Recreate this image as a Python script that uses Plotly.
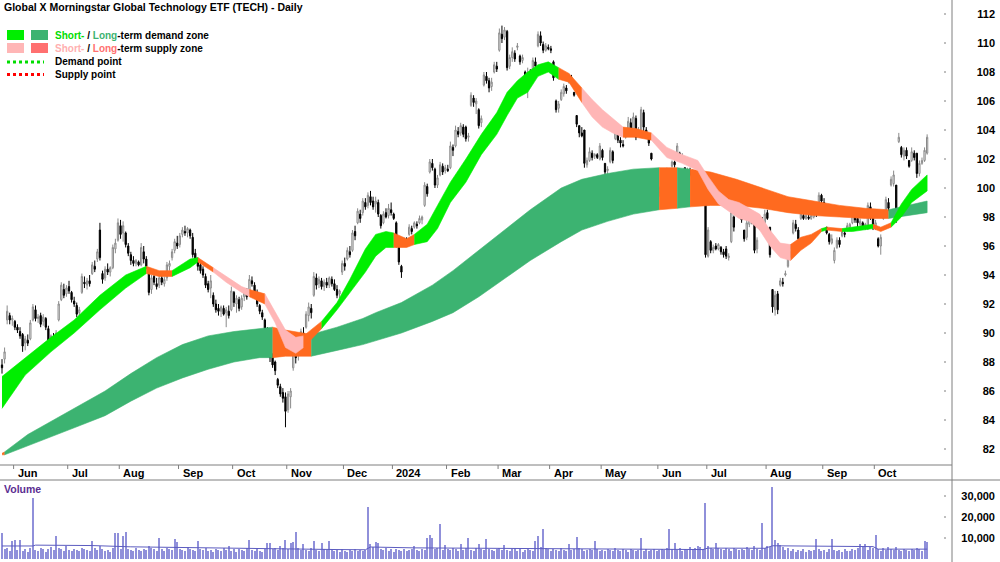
import plotly.graph_objects as go

# ---------------- data ----------------
opens = [
87.8, 88.2, 90.9, 91.2, 90.9, 90.8, 90.4, 90.1, 89.9, 89.3,
89.5, 89.6, 90.9, 91.6, 91.0, 91.2, 90.8, 91.0, 90.3, 89.5,
89.7, 89.4, 90.9, 92.3, 93.0, 92.7, 93.2, 92.8, 92.2, 91.9,
91.4, 92.8, 93.5, 93.3, 93.6, 94.1, 94.6, 95.1, 97.1, 94.1,
93.8, 94.4, 94.2, 94.5, 95.8, 96.4, 97.4, 96.9, 96.9, 96.0,
95.4, 95.0, 94.8, 94.9, 94.7, 95.6, 95.1, 94.3, 93.0, 93.9,
93.4, 93.3, 93.8, 93.4, 93.8, 94.6, 95.2, 95.7, 96.2, 96.1,
96.8, 97.0, 96.9, 97.1, 96.6, 95.5, 95.0, 94.7, 94.4, 93.9,
93.4, 93.1, 92.6, 92.0, 91.7, 91.5, 91.7, 91.4, 91.5, 91.6,
92.8, 92.0, 92.3, 91.8, 92.5, 92.7, 92.8, 93.6, 93.3, 92.8,
91.9, 91.4, 90.9, 90.2, 89.3, 88.4, 88.0, 86.8, 86.3, 85.9,
85.6, 84.7, 85.6, 87.6, 88.4, 88.5, 89.0, 90.0, 90.4, 91.2,
91.7, 92.6, 93.8, 93.4, 93.6, 93.2, 93.5, 93.3, 93.7, 93.4,
93.0, 92.7, 94.2, 94.8, 95.1, 95.6, 95.7, 97.0, 97.6, 98.2,
98.3, 99.0, 98.8, 99.4, 99.1, 98.9, 99.0, 98.1, 97.6, 98.3,
98.1, 98.5, 98.2, 97.6, 95.9, 94.6, 96.2, 96.3, 96.8, 97.2,
97.3, 97.5, 97.6, 97.8, 98.8, 100.1, 101.1, 101.7, 101.3, 100.2,
100.9, 101.5, 101.2, 101.3, 101.4, 102.8, 102.9, 103.9, 103.8, 104.2,
104.2, 103.5, 105.7, 106.2, 105.8, 105.4, 104.5, 107.1, 107.7, 107.4,
107.0, 108.0, 108.4, 109.5, 110.6, 110.4, 110.8, 108.4, 109.0, 109.3,
109.7, 109.1, 108.8, 108.0, 107.6, 107.9, 108.0, 108.7, 109.8, 110.5,
109.9, 109.5, 109.7, 109.6, 108.7, 106.0, 105.5, 106.1, 106.5, 106.9,
107.3, 107.6, 106.6, 105.0, 104.3, 103.8, 104.0, 101.6, 101.9, 102.4,
102.2, 102.3, 102.0, 102.6, 101.7, 101.2, 101.8, 102.5, 103.4, 103.7,
103.3, 103.0, 103.5, 103.9, 104.5, 104.0, 104.8, 103.8, 103.6, 105.2,
104.0, 103.4, 102.4, 101.1, 100.6, 99.7, 99.9, 99.6, 100.8, 101.2,
101.5, 101.8, 102.1, 102.4, 102.0, 101.4, 101.1, 101.2, 101.0, 101.1,
100.9, 101.0, 100.7, 100.6, 95.3, 96.3, 95.7, 96.0, 95.8, 95.9,
95.6, 95.8, 95.2, 96.3, 98.0, 98.8, 99.3, 98.4, 97.1, 96.6,
97.5, 98.2, 97.6, 95.8, 97.2, 97.7, 97.6, 98.3, 97.3, 93.0,
91.6, 92.7, 93.3, 93.5, 94.0, 94.6, 95.6, 96.9, 97.5, 97.1,
97.9, 98.1, 97.9, 98.0, 97.9, 98.0, 98.4, 98.3, 99.5, 99.0,
97.3, 96.8, 96.2, 95.0, 95.9, 96.4, 96.7, 96.9, 97.1, 97.3,
97.6, 98.0, 97.9, 97.5, 97.6, 97.4, 97.2, 98.7, 98.5, 97.4,
96.5, 96.0, 97.9, 98.3, 99.0, 100.2, 100.3, 100.2, 103.2, 102.8,
102.2, 102.6, 101.9, 101.9, 102.4, 102.4, 101.0, 101.7, 101.9, 102.4,
]
highs = [
88.2, 89.0, 91.9, 91.4, 91.2, 90.9, 90.6, 90.4, 90.0, 89.8,
89.9, 90.9, 92.0, 91.9, 91.3, 91.4, 91.3, 91.1, 90.5, 89.9,
90.0, 90.2, 92.2, 93.5, 93.4, 93.3, 93.6, 92.9, 92.5, 92.1,
91.8, 94.1, 93.9, 93.8, 94.0, 94.9, 95.0, 95.8, 97.6, 94.3,
94.6, 94.8, 94.6, 96.1, 96.5, 97.9, 97.8, 97.7, 97.0, 96.2,
95.6, 95.3, 95.1, 95.0, 96.2, 96.0, 95.3, 94.5, 94.0, 94.2,
93.8, 94.0, 94.0, 93.9, 94.9, 95.0, 95.8, 96.5, 96.7, 96.9,
97.3, 97.4, 97.3, 97.2, 96.9, 95.8, 95.2, 95.0, 94.6, 94.1,
93.6, 94.0, 92.8, 92.3, 92.0, 91.9, 91.9, 91.8, 91.9, 93.2,
92.9, 92.6, 92.5, 92.6, 93.0, 93.1, 94.0, 93.9, 93.5, 93.0,
92.0, 91.6, 91.0, 90.4, 89.4, 88.6, 88.1, 86.9, 86.5, 86.2,
85.9, 86.0, 86.2, 88.9, 89.2, 89.3, 90.3, 90.4, 91.5, 92.1,
92.0, 94.2, 94.1, 93.9, 93.8, 93.7, 93.8, 93.9, 93.9, 93.7,
93.3, 93.0, 95.0, 95.2, 95.9, 96.0, 97.1, 97.4, 98.6, 98.5,
99.3, 99.3, 99.7, 99.8, 99.4, 99.4, 99.2, 98.2, 98.4, 98.6,
98.9, 99.0, 98.3, 97.7, 96.1, 94.7, 96.6, 96.6, 97.5, 97.4,
97.7, 97.7, 98.1, 98.1, 100.4, 100.3, 102.0, 102.0, 101.4, 100.9,
101.8, 101.7, 101.6, 101.6, 103.2, 103.0, 104.3, 104.2, 104.5, 104.4,
104.3, 103.8, 106.6, 106.4, 106.2, 105.5, 105.0, 108.0, 108.0, 107.6,
107.6, 108.7, 108.7, 111.0, 111.2, 111.1, 110.9, 109.2, 109.7, 109.5,
110.0, 109.2, 109.2, 108.1, 108.3, 108.2, 109.0, 109.0, 110.8, 110.8,
110.1, 110.0, 109.9, 109.8, 108.8, 106.1, 106.0, 106.8, 107.2, 107.1,
107.9, 107.8, 106.6, 105.0, 104.3, 104.2, 104.0, 102.1, 102.8, 102.6,
102.4, 102.4, 103.1, 102.7, 101.7, 101.5, 102.8, 102.6, 104.0, 103.8,
103.5, 103.3, 104.0, 104.9, 104.8, 105.2, 105.0, 104.2, 105.6, 105.4,
104.2, 103.5, 102.4, 101.1, 100.6, 100.1, 99.9, 99.9, 101.4, 101.3,
101.9, 101.9, 103.1, 102.5, 102.4, 101.4, 101.4, 101.4, 101.3, 101.2,
101.2, 101.0, 100.9, 100.6, 97.3, 96.4, 96.1, 96.2, 96.2, 96.0,
95.8, 96.0, 95.5, 98.5, 98.1, 99.7, 99.4, 98.5, 97.1, 97.8,
98.5, 98.4, 97.7, 96.6, 98.0, 98.0, 98.5, 98.5, 97.3, 93.0,
92.9, 92.9, 93.8, 93.8, 94.3, 95.9, 96.1, 97.8, 97.8, 97.3,
98.3, 98.3, 98.2, 98.3, 98.2, 98.7, 98.7, 99.7, 99.6, 99.3,
97.3, 96.9, 96.8, 95.9, 96.6, 96.6, 97.1, 97.1, 97.6, 97.6,
98.3, 98.2, 98.0, 97.9, 97.7, 97.6, 99.0, 99.0, 98.5, 97.8,
96.6, 96.8, 98.5, 99.4, 99.3, 100.8, 101.2, 100.2, 103.8, 102.9,
102.8, 102.8, 101.9, 102.8, 102.6, 102.4, 101.9, 102.1, 102.8, 103.7,
]
lows = [
87.2, 87.9, 90.6, 90.6, 90.5, 90.2, 90.0, 89.6, 88.7, 88.8,
89.1, 89.5, 90.8, 90.8, 90.7, 90.4, 90.5, 90.2, 89.3, 89.0,
88.9, 89.1, 90.8, 92.2, 92.4, 92.5, 92.7, 92.1, 91.8, 91.1,
91.0, 92.7, 93.1, 93.0, 93.2, 94.0, 94.2, 94.9, 95.0, 93.4,
93.6, 94.0, 93.9, 94.4, 95.5, 96.3, 96.5, 96.3, 95.9, 95.3,
94.7, 94.6, 94.6, 94.6, 94.6, 94.8, 94.4, 92.6, 92.7, 93.3,
93.0, 93.1, 93.3, 93.2, 93.6, 94.3, 95.0, 95.5, 95.8, 95.9,
96.6, 96.7, 96.6, 96.5, 95.2, 94.9, 94.3, 94.1, 93.8, 93.1,
92.8, 92.4, 91.8, 91.4, 91.2, 91.1, 91.2, 90.4, 91.0, 91.5,
91.8, 91.4, 91.5, 91.6, 92.2, 92.3, 92.7, 93.2, 92.5, 91.8,
91.3, 90.9, 89.8, 89.4, 88.0, 87.6, 87.1, 86.2, 85.6, 85.2,
83.5, 84.5, 84.8, 87.4, 87.9, 88.1, 88.9, 89.4, 90.3, 90.8,
91.0, 92.5, 93.0, 93.1, 93.0, 92.9, 93.1, 93.1, 93.2, 92.9,
92.4, 92.4, 94.0, 94.3, 95.0, 95.2, 95.6, 96.4, 97.5, 97.6,
98.1, 98.5, 98.6, 98.8, 98.5, 98.3, 98.0, 97.2, 97.5, 97.9,
97.9, 98.1, 97.8, 95.9, 94.7, 93.8, 96.0, 96.1, 96.7, 96.8,
97.2, 97.2, 97.5, 97.5, 98.7, 99.4, 101.0, 101.2, 100.0, 100.0,
100.8, 100.9, 101.0, 101.1, 101.3, 102.2, 102.8, 103.5, 103.6, 103.5,
103.2, 103.2, 105.6, 105.6, 105.1, 104.1, 104.2, 107.0, 107.2, 106.6,
106.7, 107.9, 108.0, 109.4, 110.0, 110.2, 108.1, 108.2, 108.7, 108.7,
109.5, 108.5, 108.6, 107.3, 106.2, 107.4, 107.8, 108.1, 109.7, 109.8,
109.3, 109.4, 109.5, 109.3, 107.4, 105.2, 105.2, 106.0, 106.3, 106.5,
107.2, 107.2, 106.3, 104.2, 103.5, 103.5, 101.4, 101.4, 101.8, 101.9,
102.0, 102.0, 101.9, 101.9, 100.9, 100.9, 101.7, 101.7, 103.3, 103.1,
102.8, 102.8, 103.4, 103.8, 103.8, 103.9, 103.3, 103.7, 103.5, 103.9,
103.4, 102.9, 101.9, 100.7, 99.6, 99.4, 99.5, 99.5, 100.7, 100.8,
101.4, 101.4, 102.0, 101.8, 101.8, 100.9, 100.9, 100.8, 100.8, 100.8,
100.7, 100.5, 100.5, 95.2, 95.2, 95.5, 95.5, 95.7, 95.7, 95.4,
95.2, 95.1, 95.0, 96.2, 97.0, 98.7, 98.6, 97.6, 96.3, 96.4,
97.3, 97.5, 95.5, 95.5, 97.1, 97.1, 97.5, 97.8, 95.2, 91.4,
91.2, 91.3, 93.2, 93.2, 93.9, 94.5, 95.2, 96.8, 97.0, 96.3,
97.8, 97.8, 97.8, 97.8, 97.8, 97.9, 98.0, 98.2, 98.9, 98.7,
96.8, 96.1, 96.1, 94.8, 95.8, 95.9, 96.6, 96.6, 97.0, 97.1,
97.5, 97.6, 97.3, 97.3, 97.2, 97.1, 97.1, 97.8, 97.1, 97.1,
95.9, 95.4, 97.8, 98.2, 98.4, 100.1, 100.1, 97.6, 103.1, 102.1,
101.9, 102.0, 101.4, 101.8, 101.9, 100.7, 100.8, 101.6, 101.8, 102.3,
]
closes = [
87.6, 88.7, 91.5, 90.9, 91.0, 90.4, 90.2, 89.8, 89.1, 89.6,
89.3, 90.7, 91.8, 91.0, 91.1, 90.6, 91.1, 90.4, 89.5, 89.8,
89.2, 90.0, 92.0, 93.3, 92.6, 93.1, 92.9, 92.3, 92.0, 91.3,
91.6, 93.9, 93.4, 93.6, 93.4, 94.7, 94.4, 95.6, 95.2, 93.7,
94.4, 94.2, 94.5, 95.9, 96.2, 97.6, 96.8, 97.4, 96.1, 95.5,
95.0, 94.8, 95.0, 94.7, 95.9, 95.1, 94.6, 92.8, 93.8, 93.5,
93.2, 93.8, 93.5, 93.7, 94.7, 94.8, 95.6, 96.3, 96.0, 96.7,
97.1, 96.9, 97.2, 96.7, 95.4, 95.1, 94.6, 94.3, 94.0, 93.3,
93.0, 93.6, 92.0, 91.6, 91.5, 91.8, 91.3, 91.6, 91.2, 92.9,
92.1, 92.4, 91.7, 92.4, 92.8, 92.5, 93.7, 93.4, 92.7, 92.0,
91.5, 91.1, 90.0, 89.6, 88.3, 87.8, 87.4, 86.4, 85.8, 85.5,
84.6, 85.8, 86.0, 88.7, 88.3, 89.0, 90.1, 89.7, 91.3, 91.8,
91.4, 93.9, 93.3, 93.7, 93.2, 93.5, 93.3, 93.8, 93.4, 93.0,
92.6, 92.9, 94.8, 94.6, 95.7, 95.4, 96.9, 96.7, 98.4, 97.9,
99.1, 98.7, 99.5, 99.0, 98.7, 99.1, 98.2, 97.4, 98.2, 98.0,
98.6, 98.3, 97.9, 96.1, 94.9, 94.2, 96.4, 96.2, 97.3, 97.0,
97.6, 97.4, 97.9, 98.0, 100.2, 99.6, 101.8, 101.4, 100.2, 100.7,
101.6, 101.1, 101.4, 101.2, 102.9, 102.6, 104.0, 103.7, 104.3, 103.7,
103.4, 103.6, 106.4, 105.9, 106.0, 104.3, 104.8, 107.8, 107.4, 106.9,
107.3, 108.5, 108.2, 110.7, 110.3, 110.9, 108.3, 109.0, 109.4, 108.9,
109.8, 108.7, 109.0, 107.5, 108.0, 107.7, 108.8, 108.4, 110.6, 110.0,
109.5, 109.8, 109.6, 109.5, 107.6, 105.4, 105.8, 106.6, 107.0, 106.7,
107.7, 107.3, 106.4, 104.4, 103.8, 103.6, 101.7, 101.9, 102.5, 102.1,
102.3, 102.1, 102.9, 102.1, 101.1, 101.3, 102.6, 101.9, 103.8, 103.3,
103.1, 102.9, 103.8, 104.6, 104.0, 104.9, 103.5, 104.0, 105.4, 104.2,
103.5, 103.1, 102.0, 100.9, 99.8, 100.0, 99.6, 99.8, 101.2, 101.0,
101.8, 101.6, 102.9, 102.0, 102.2, 101.0, 101.3, 100.9, 101.2, 100.9,
101.0, 100.6, 100.6, 95.4, 97.1, 95.7, 95.9, 95.8, 96.1, 95.6,
95.4, 95.3, 95.3, 98.3, 97.3, 99.5, 98.8, 97.8, 96.5, 97.6,
98.3, 97.8, 95.7, 96.4, 97.8, 97.3, 98.2, 97.9, 95.4, 91.8,
92.6, 91.6, 93.6, 93.4, 94.1, 95.7, 95.9, 97.6, 97.2, 96.5,
98.2, 97.9, 98.1, 97.9, 98.1, 98.5, 98.2, 99.5, 99.1, 98.9,
96.9, 96.3, 96.5, 95.7, 96.4, 96.1, 97.0, 96.8, 97.4, 97.5,
98.1, 97.8, 97.6, 97.7, 97.3, 97.5, 98.8, 98.0, 97.3, 97.6,
96.0, 96.6, 98.3, 99.2, 98.6, 100.6, 100.9, 97.8, 103.5, 102.3,
102.6, 102.2, 101.5, 102.5, 102.1, 101.0, 101.7, 101.9, 102.6, 103.5,
]
volumes = [
12200, 4800, 5300, 3900, 8600, 9000, 4200, 9000, 3600, 4700, 3300, 5100, 29200, 4400, 3800, 5200, 4600, 3500, 4900, 5600,
4100, 11000, 5300, 4700, 3900, 6100, 4500, 3700, 5000, 4300, 3600, 5400, 4800, 4100, 3900, 8600, 5200, 4400, 6200, 4600,
3800, 4500, 3500, 5100, 12500, 12200, 4700, 11000, 13000, 4900, 4200, 3600, 5300, 4400, 3700, 5000, 4500, 6300, 5100, 4800,
3900, 10200, 4600, 3800, 5200, 4700, 4100, 9400, 8000, 5000, 4300, 3900, 5500, 4700, 4100, 3600, 8600, 4900, 4200, 5300,
3800, 4500, 3400, 4900, 4100, 3600, 5200, 4400, 6300, 3900, 4600, 3500, 4800, 4200, 3700, 5100, 9000, 4300, 3600, 4700,
4000, 3500, 5000, 7800, 7800, 4600, 5400, 4100, 6200, 5300, 9000, 4800, 7800, 8000, 12700, 5200, 4500, 7000, 4300, 3900,
5100, 8600, 4400, 3800, 7800, 4600, 4100, 8600, 4900, 3700, 4300, 3500, 4800, 3900, 3400, 4400, 3800, 4600, 3600, 4200,
3700, 4500, 24900, 7000, 5600, 8000, 7500, 4700, 4100, 5200, 3800, 4600, 3500, 4900, 4300, 3900, 4700, 3600, 4400, 5000,
6300, 4200, 3800, 4900, 4500, 9800, 11400, 9800, 4700, 5300, 16500, 4400, 6600, 4800, 4100, 5200, 4600, 3900, 7000, 4500,
5100, 9800, 4400, 3800, 5300, 7000, 4600, 4200, 9400, 5000, 4300, 3700, 4900, 5400, 4100, 6700, 4500, 3600, 4800, 5200,
4000, 4600, 3500, 4400, 5000, 4200, 3800, 8600, 11000, 5500, 14300, 5200, 4600, 3900, 4800, 4300, 3700, 5100, 4500, 3600,
7000, 4200, 4900, 10300, 5300, 4600, 3800, 4400, 5000, 4100, 8600, 4700, 3900, 4500, 3600, 4800, 4200, 3700, 5100, 4400,
3800, 4600, 4100, 3500, 4900, 4300, 3700, 4500, 9800, 4000, 4700, 3600, 4400, 5000, 3900, 4300, 4800, 4100, 5200, 14300,
4600, 7500, 4200, 5100, 3800, 4700, 4400, 5600, 4900, 5300, 6200, 5700, 5000, 26500, 6000, 5400, 4800, 7800, 5100, 4600,
4300, 5200, 4700, 3900, 5400, 4800, 4200, 5000, 4400, 5700, 4600, 4100, 6300, 5000, 4500, 17000, 5200, 6100, 5600, 34100,
9000, 7600, 6800, 5900, 4300, 5100, 3800, 4600, 3500, 4200, 3900, 4800, 3300, 4100, 3600, 4400, 9400, 4900, 3700, 4300,
3500, 4600, 9400, 4200, 3800, 4500, 3400, 4900, 4000, 3600, 4700, 4100, 5200, 7000, 5600, 7000, 4400, 5800, 5100, 11400,
4600, 3900, 5200, 4300, 5700, 4800, 4100, 5500, 4500, 3800, 5000, 4300, 3700, 4900, 4200, 5400, 4600, 3900, 8600, 8000,
]
vol_ma_idx = [0, 12, 13, 35, 50, 70, 90, 110, 130, 141, 143, 160, 180, 200, 220, 240, 260, 272, 274, 296, 299, 320, 338, 340, 359]
vol_ma_val = [6200, 6200, 6600, 6400, 5800, 5400, 5000, 4900, 4500, 4400, 5700, 5300, 5100, 5000, 5000, 4700, 4600, 4500, 5200, 5100, 6300, 6200, 5900, 4700, 4700]

# short-term zone (upper / lower edge) sampled at trading-day index
short_idx = [0, 9, 19, 28, 38, 48, 56, 61, 66, 73, 76, 82, 87, 93, 96, 102, 106, 110, 114, 117,
             124, 130, 135, 141, 145, 149, 152, 157, 160, 165, 169, 174, 180, 186, 192, 196, 200, 204, 208, 212,
             216, 220, 225, 229, 233, 237, 241, 246, 252, 258, 264, 270, 274, 278, 282, 286, 290, 294, 298, 302,
             306, 310, 314, 318, 320, 326, 330, 334, 338, 341, 345, 349, 353, 356, 359]
short_up = [87.0, 88.3, 89.7, 90.9, 92.6, 94.0, 94.6, 94.3, 94.3, 95.1, 95.2, 94.5, 93.9, 93.2, 93.0, 92.7, 91.4, 90.2, 89.7, 89.8,
            90.8, 92.1, 93.7, 95.8, 96.8, 97.0, 96.9, 96.5, 96.8, 97.5, 98.8, 100.4, 102.0, 103.7, 105.2, 106.6, 107.4, 108.0, 108.5, 108.7,
            108.3, 107.9, 106.9, 106.1, 105.4, 104.8, 104.2, 104.1, 103.8, 102.8, 102.3, 101.9, 100.8, 99.8, 99.2, 99.0, 98.6, 98.2, 97.1, 96.2,
            96.1, 96.6, 96.8, 97.2, 97.3, 97.2, 97.3, 97.4, 97.5, 97.3, 97.6, 98.9, 99.9, 100.4, 100.9]
short_lo = [84.8, 87.1, 88.7, 90.0, 91.6, 93.1, 94.1, 93.9, 93.9, 94.5, 94.9, 94.2, 93.5, 92.8, 92.5, 92.0, 90.7, 89.0, 88.6, 89.0,
            90.3, 91.6, 92.8, 94.2, 95.3, 95.9, 95.9, 95.9, 96.1, 96.3, 97.2, 99.0, 100.4, 102.3, 103.7, 105.0, 106.2, 106.6, 107.7, 108.0,
            107.5, 107.3, 105.9, 104.9, 104.2, 103.8, 103.5, 103.5, 103.3, 102.1, 101.7, 101.2, 99.9, 98.9, 98.4, 97.9, 97.7, 97.1, 96.0, 95.2,
            95.0, 95.7, 96.2, 97.0, 97.1, 97.0, 97.0, 97.1, 97.2, 97.0, 97.3, 98.0, 99.0, 99.4, 99.8]
short_breaks = [0, 56, 66, 76, 82, 96, 102, 117, 124, 152, 160, 216, 225, 241, 252, 306, 318, 320, 326, 338, 345, 359]
short_kind = ["demand", "mixed", "demand", "mixed", "supply", "mixed", "supply", "mixed", "demand", "mixed", "demand",
              "mixed", "supply", "mixed", "supply", "mixed", "demand", "mixed", "demand", "mixed", "demand"]

# long-term zone
long_idx = [0, 1, 10, 20, 30, 40, 50, 60, 70, 80, 90, 100, 105, 110, 120, 130, 140, 145, 155, 167,
            175, 185, 194, 205, 217, 225, 235, 245, 255, 262, 267, 275, 285, 295, 305, 315, 325, 335, 344, 352, 359]
long_up = [81.7, 81.8, 83.0, 84.0, 85.0, 86.0, 87.2, 88.3, 89.2, 89.8, 90.1, 90.3, 90.4, 90.2, 89.9, 90.4, 91.0, 91.4, 92.1, 93.3,
           94.3, 95.7, 96.9, 98.5, 100.0, 100.6, 101.0, 101.3, 101.4, 101.4, 101.3, 101.1, 100.6, 100.0, 99.4, 99.1, 98.8, 98.6, 98.5, 98.8, 99.1]
long_lo = [81.6, 81.6, 82.2, 82.9, 83.6, 84.3, 85.3, 86.2, 86.9, 87.5, 88.0, 88.3, 88.3, 88.4, 88.4, 88.8, 89.2, 89.5, 90.0, 90.8,
           91.4, 92.5, 93.6, 95.0, 96.3, 97.1, 97.7, 98.2, 98.5, 98.6, 98.7, 98.8, 98.8, 98.6, 98.3, 98.1, 98.0, 97.9, 97.9, 98.1, 98.3]
long_breaks = [0, 1, 105, 120, 255, 262, 267, 344, 359]
long_kind = ["mixed", "demand", "mixed", "demand", "mixed", "demand", "mixed", "demand"]

month_labels = ["Jun", "Jul", "Aug", "Sep", "Oct", "Nov", "Dec", "2024", "Feb", "Mar", "Apr", "May",
                "Jun", "Jul", "Aug", "Sep", "Oct"]
month_first_idx = [5, 26, 46, 69, 90, 111, 133, 152, 173, 193, 213, 233, 255, 274, 297, 319, 339]
price_ticks = list(range(82, 113, 2))
vol_ticks = [10000, 20000, 30000]
vol_tick_text = ["10,000", "20,000", "30,000"]

# ---------------- styling ----------------
W, H = 1000, 562
X_RIGHT = 952          # px of right axis line
PRICE_BOTTOM = 465     # px
VOL_TOP = 480          # px
SHORT_COL = {"demand": "#00EE00", "supply": "#FFB6B6", "mixed": "#FF6A1F"}
LONG_COL = {"demand": "#3CB371", "supply": "#FF7070", "mixed": "#FF6A1F"}
FONT = "Liberation Sans, Arial"

def py(px):
    return 1 - px / H

n = len(closes)
idx = list(range(n))
highs = [max(h, o, c) for h, o, c in zip(highs, opens, closes)]
lows = [min(l, o, c) for l, o, c in zip(lows, opens, closes)]

fig = go.Figure()

def add_band(sidx, up, lo, breaks, kinds, colors):
    for k in range(len(kinds)):
        a, b = breaks[k], breaks[k + 1]
        pts = [j for j in range(len(sidx)) if a <= sidx[j] <= b]
        xs = [sidx[j] for j in pts] + [sidx[j] for j in reversed(pts)]
        ys = [up[j] for j in pts] + [lo[j] for j in reversed(pts)]
        col = colors[kinds[k]]
        fig.add_trace(go.Scatter(x=xs, y=ys, fill="toself", fillcolor=col, mode="lines",
                                 line=dict(color=col, width=0.6), hoverinfo="skip",
                                 showlegend=False, xaxis="x", yaxis="y"))

add_band(long_idx, long_up, long_lo, long_breaks, long_kind, LONG_COL)
add_band(short_idx, short_up, short_lo, short_breaks, short_kind, SHORT_COL)

fig.add_trace(go.Candlestick(
    x=idx, open=opens, high=highs, low=lows, close=closes,
    increasing=dict(line=dict(color="#8a8a8a", width=1), fillcolor="#ffffff"),
    decreasing=dict(line=dict(color="#000000", width=1), fillcolor="#000000"),
    whiskerwidth=0, showlegend=False, hoverinfo="skip", xaxis="x", yaxis="y"))

fig.add_trace(go.Bar(x=idx, y=volumes, width=0.42, marker=dict(color="#9090DA", line=dict(width=0)),
                     showlegend=False, hoverinfo="skip", xaxis="x2", yaxis="y2"))
fig.add_trace(go.Scatter(x=vol_ma_idx, y=vol_ma_val, mode="lines", line=dict(color="#5C5CC0", width=1),
                         showlegend=False, hoverinfo="skip", xaxis="x2", yaxis="y2"))

xr = [-2 / 2.577, (X_RIGHT - 2) / 2.577]
common_x = dict(range=xr, domain=[0, X_RIGHT / W], showticklabels=False, showgrid=False,
                zeroline=False, showline=False, ticks="", fixedrange=True)
price_per_px = 14.5
yr = [112 - (PRICE_BOTTOM - 14) / price_per_px, 112 + 14 / price_per_px]
vol_per_px = 10000 / 21.0
vr = [-(H - 559) * vol_per_px, (559 - VOL_TOP) * vol_per_px]
tick_font = dict(family=FONT, size=11, color="black", weight="bold")

fig.update_layout(
    width=W, height=H, margin=dict(l=0, r=0, t=0, b=0),
    paper_bgcolor="white", plot_bgcolor="white", showlegend=False,
    xaxis=dict(**common_x, anchor="y", rangeslider=dict(visible=False)),
    xaxis2=dict(**common_x, anchor="y2"),
    yaxis=dict(domain=[py(PRICE_BOTTOM), 1], range=yr, anchor="free", position=0.998, side="right",
               ticklabelposition="inside", tickvals=price_ticks, ticks="", showgrid=False,
               zeroline=False, showline=False, tickfont=tick_font),
    yaxis2=dict(domain=[0, py(VOL_TOP)], range=vr, anchor="free", position=0.998, side="right",
                ticklabelposition="inside", tickvals=vol_ticks, ticktext=vol_tick_text, ticks="",
                showgrid=False, zeroline=False, showline=False, tickfont=tick_font),
    bargap=0,
)

shapes = []
line_col = "#7f7f7f"
shapes.append(dict(type="line", xref="paper", yref="paper", x0=0, x1=X_RIGHT / W,
                   y0=py(PRICE_BOTTOM), y1=py(PRICE_BOTTOM), line=dict(color=line_col, width=1)))
shapes.append(dict(type="line", xref="paper", yref="paper", x0=0, x1=1,
                   y0=py(VOL_TOP), y1=py(VOL_TOP), line=dict(color=line_col, width=1)))
shapes.append(dict(type="line", xref="paper", yref="paper", x0=X_RIGHT / W, x1=X_RIGHT / W,
                   y0=0, y1=1, line=dict(color=line_col, width=1)))
for t in price_ticks:
    shapes.append(dict(type="line", xref="paper", yref="y", x0=(X_RIGHT - 8) / W, x1=(X_RIGHT - 6) / W,
                       y0=t, y1=t, line=dict(color=line_col, width=1)))
for t in vol_ticks:
    shapes.append(dict(type="line", xref="paper", yref="y2", x0=(X_RIGHT - 8) / W, x1=(X_RIGHT - 6) / W,
                       y0=t, y1=t, line=dict(color=line_col, width=1)))
for m in month_first_idx:
    shapes.append(dict(type="line", xref="x", yref="paper", x0=m - 0.5, x1=m - 0.5,
                       y0=py(PRICE_BOTTOM), y1=py(PRICE_BOTTOM + 4), line=dict(color=line_col, width=1)))

def rect(x0, y0, x1, y1, col):
    shapes.append(dict(type="rect", xref="paper", yref="paper", x0=x0 / W, x1=x1 / W,
                       y0=py(y1), y1=py(y0), fillcolor=col, line=dict(width=0)))
rect(7, 30, 24, 40, SHORT_COL["demand"])
rect(31, 30, 48, 40, LONG_COL["demand"])
rect(7, 43, 24, 53, SHORT_COL["supply"])
rect(31, 43, 48, 53, LONG_COL["supply"])
shapes.append(dict(type="line", xref="paper", yref="paper", x0=7 / W, x1=44 / W, y0=py(62), y1=py(62),
                   line=dict(color="#00DD00", width=3, dash="dot")))
shapes.append(dict(type="line", xref="paper", yref="paper", x0=7 / W, x1=44 / W, y0=py(74.5), y1=py(74.5),
                   line=dict(color="#FF0000", width=3, dash="dot")))

annotations = []
for lab, m in zip(month_labels, month_first_idx):
    annotations.append(dict(x=m - 0.5, y=py(473), xref="x", yref="paper", text=lab, showarrow=False,
                            xanchor="left", yanchor="middle", xshift=2, font=tick_font))

def txt(x, y, s, size=10, color="black"):
    annotations.append(dict(x=x / W, y=py(y), xref="paper", yref="paper", text=s, showarrow=False,
                            xanchor="left", yanchor="middle",
                            font=dict(family=FONT, size=size, color=color, weight="bold")))

txt(2, 7, "Global X Morningstar Global Technology ETF (TECH) - Daily", size=10.5)
txt(53, 35.5, "<span style='color:#00DD00'>Short-</span> / <span style='color:#3CB371'>Long</span>-term demand zone")
txt(53, 48.5, "<span style='color:#FFB0B0'>Short-</span> / <span style='color:#FF7070'>Long</span>-term supply zone")
txt(53, 62, "Demand point")
txt(53, 74.5, "Supply point")
txt(2, 489, "Volume", size=10.5, color="#5B2D91")

fig.update_layout(shapes=shapes, annotations=annotations)
fig.write_html("out.html", config={"displayModeBar": False})
